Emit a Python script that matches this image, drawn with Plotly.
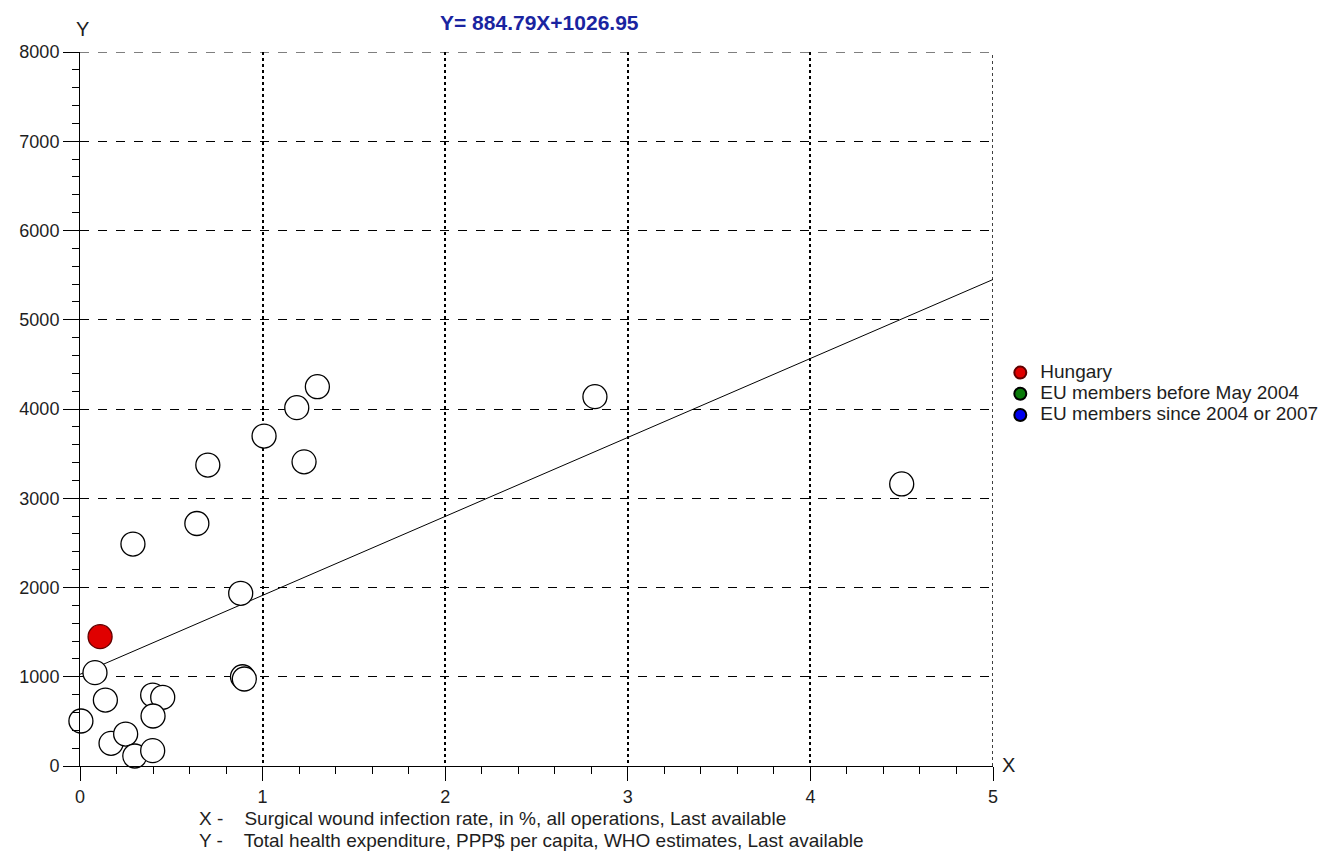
import plotly.graph_objects as go

# Data
other_x = [0.005, 0.082, 0.139, 0.17, 0.25, 0.30, 0.29, 0.398, 0.453, 0.40, 0.398,
           0.64, 0.70, 0.88, 0.89, 0.90, 1.008, 1.187, 1.227, 1.30, 2.82, 4.50]
other_y = [504, 1046, 739, 254, 358, 112, 2487, 795, 770, 560, 172,
           2717, 3372, 1935, 1000, 975, 3697, 4015, 3408, 4250, 4138, 3160]
hungary_x = [0.11]
hungary_y = [1449]
slope = 884.79
intercept = 1026.95
line_x = [0, 5]
x_ticks = [0, 1, 2, 3, 4, 5]
y_ticks = [0, 1000, 2000, 3000, 4000, 5000, 6000, 7000, 8000]
legend_names = ["Hungary", "EU members before May 2004", "EU members since 2004 or 2007"]

FONT = "Liberation Sans, Arial, sans-serif"
TXT = "#1e1e1e"

# page body has an 8px margin, so the figure is drawn 8px in from the corner
W, H = 1322, 843
ML, MR, MT, MB = 72, 337, 44, 85
PW = W - ML - MR
PH = H - MT - MB


def px_x(ax):  # absolute page x -> paper x
    return (ax - 8 - ML) / PW


def px_y(ay):  # absolute page y -> paper y
    return (H - MB - (ay - 8)) / PH


def big(s):
    return '<span style="font-size:19px">' + s + '</span>'


fig = go.Figure()

fig.add_trace(go.Scatter(
    x=line_x, y=[slope * v + intercept for v in line_x], mode="lines",
    line=dict(color="black", width=1), showlegend=False, hoverinfo="skip"))

fig.add_trace(go.Scatter(
    x=other_x, y=other_y, mode="markers", showlegend=False, cliponaxis=False,
    marker=dict(size=24, color="white", line=dict(color="black", width=1.3))))

fig.add_trace(go.Scatter(
    x=hungary_x, y=hungary_y, mode="markers", name=big(legend_names[0]), cliponaxis=False,
    marker=dict(size=24, color="#e00000", line=dict(color="#600000", width=1.3))))

fig.add_trace(go.Scatter(
    x=[None], y=[None], mode="markers", name=big(legend_names[1]),
    marker=dict(size=16, color="#0a7a0a", line=dict(color="black", width=1))))

fig.add_trace(go.Scatter(
    x=[None], y=[None], mode="markers", name=big(legend_names[2]),
    marker=dict(size=16, color="#0000ee", line=dict(color="black", width=1))))

# grid lines at the range ends (Plotly omits them)
fig.add_shape(type="line", xref="x", yref="y", x0=5, x1=5, y0=0, y1=8000,
              line=dict(color="black", width=1.5, dash="dot"))
fig.add_shape(type="line", xref="x", yref="y", x0=0, x1=5, y0=8000, y1=8000,
              line=dict(color="black", width=1, dash="dash"))

fig.update_layout(
    width=W, height=H,
    margin=dict(l=ML, r=MR, t=MT, b=MB, autoexpand=False),
    paper_bgcolor="white", plot_bgcolor="white",
    font=dict(family=FONT, size=14, color=TXT),
    legend=dict(x=1.008, xanchor="left", y=px_y(357), yanchor="top",
                font=dict(family=FONT, size=14, color=TXT),
                itemsizing="constant", tracegroupgap=0, bgcolor="rgba(0,0,0,0)"),
    xaxis=dict(range=[0, 5], tickvals=x_ticks, ticks="outside", ticklen=14,
               tickcolor="black", showline=True, linecolor="black", linewidth=1,
               zeroline=False, showgrid=True, gridcolor="black", gridwidth=1.5,
               griddash="dot", automargin=False,
               minor=dict(dtick=0.2, ticks="outside", ticklen=7, tickcolor="black",
                          showgrid=False),
               tickfont=dict(family=FONT, size=18, color=TXT)),
    yaxis=dict(range=[0, 8000], tickvals=y_ticks, ticks="outside", ticklen=16,
               tickcolor="black", showline=True, linecolor="black", linewidth=1,
               zeroline=False, showgrid=True, gridcolor="black", gridwidth=1,
               griddash="dash", automargin=False,
               minor=dict(dtick=200, ticks="outside", ticklen=7, tickcolor="black",
                          showgrid=False),
               tickfont=dict(family=FONT, size=18, color=TXT)),
    annotations=[
        dict(text="<b>Y= 884.79X+1026.95</b>", x=px_x(539), y=px_y(9),
             xref="paper", yref="paper", xanchor="center", yanchor="top",
             showarrow=False, font=dict(family=FONT, size=21, color="#1a24a0")),
        dict(text="Y", x=px_x(82), y=px_y(29), xref="paper", yref="paper",
             xanchor="center", yanchor="middle", showarrow=False,
             font=dict(family=FONT, size=20, color=TXT)),
        dict(text="X", x=px_x(1008), y=px_y(765), xref="paper", yref="paper",
             xanchor="center", yanchor="middle", showarrow=False,
             font=dict(family=FONT, size=20, color=TXT)),
        dict(text="X -    Surgical wound infection rate, in %, all operations, Last available",
             x=px_x(197), y=px_y(818), xref="paper", yref="paper",
             xanchor="left", yanchor="middle", showarrow=False,
             font=dict(family=FONT, size=19, color=TXT)),
        dict(text="Y -    Total health expenditure, PPP$ per capita, WHO estimates, Last available",
             x=px_x(197), y=px_y(840), xref="paper", yref="paper",
             xanchor="left", yanchor="middle", showarrow=False,
             font=dict(family=FONT, size=19, color=TXT)),
    ],
)

fig.write_html("out.html")
